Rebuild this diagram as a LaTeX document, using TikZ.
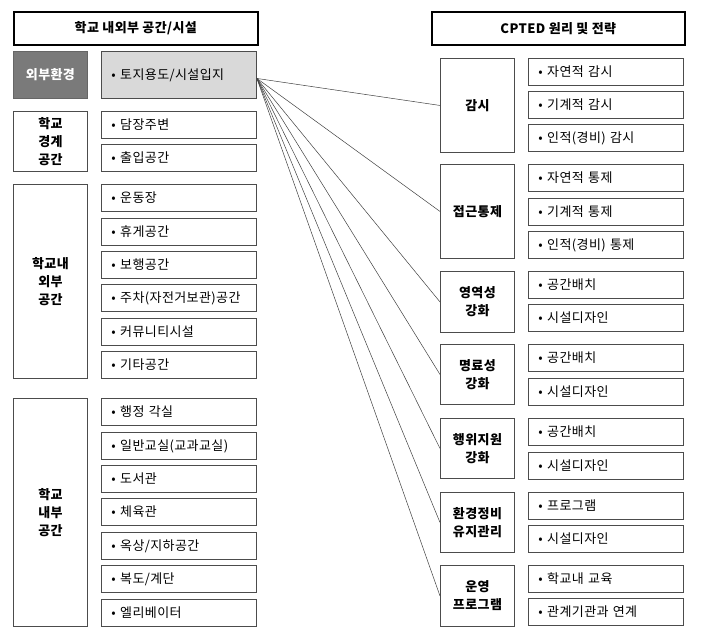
\documentclass[tikz,border=0pt]{standalone}
\usepackage{fontspec}
\newfontfamily\kr[LetterSpace=3]{Noto Sans CJK KR}
\begin{document}
\begin{tikzpicture}[x=1pt,y=-1pt,
  title/.style={draw=black, line width=1.6pt, anchor=north west, inner sep=0pt,
    minimum height=33pt, align=center, font=\kr\bfseries\fontsize{13}{15}\selectfont},
  cat/.style={draw=black!70, line width=0.9pt, anchor=north west, inner sep=0pt,
    minimum width=74pt, text width=72pt, align=center,
    font=\kr\bfseries\fontsize{13}{18}\selectfont},
  item/.style={draw=black!70, line width=0.9pt, anchor=north west, inner ysep=0pt,
    inner xsep=10pt, text width=135pt, minimum height=27pt, align=left,
    font=\kr\fontsize{13}{15}\selectfont},
  link/.style={draw=black!75, line width=0.5pt}]
\useasboundingbox (0,0) rectangle (704,636);
% titles
\node[title, minimum width=244pt] (tl) at (13,11) {학교 내외부 공간/시설};
\node[title, minimum width=253pt] (tr) at (431,11) {CPTED 원리 및 전략};
% left side
\node[cat, minimum height=47pt, fill=black!52, text=white, draw=black!60] (c1) at (13,51) {외부환경};
\node[item, minimum height=47pt, fill=black!15] (topo) at (101,51) {• 토지용도/시설입지};
\node[cat, minimum height=60pt] (c2) at (13,111) {학교\\경계\\공간};
\node[item] (l21) at (101,111) {• 담장주변};
\node[item] (l22) at (101,144) {• 출입공간};
\node[cat, minimum height=194pt] (c3) at (13,184) {학교내\\외부\\공간};
\node[item] (l31) at (101,184) {• 운동장};
\node[item] (l32) at (101,218) {• 휴게공간};
\node[item] (l33) at (101,251) {• 보행공간};
\node[item] (l34) at (101,284) {• 주차(자전거보관)공간};
\node[item] (l35) at (101,318) {• 커뮤니티시설};
\node[item] (l36) at (101,351) {• 기타공간};
\node[cat, minimum height=228pt] (c4) at (13,398) {학교\\내부\\공간};
\node[item] (l41) at (101,398) {• 행정 각실};
\node[item] (l42) at (101,432) {• 일반교실(교과교실)};
\node[item] (l43) at (101,465) {• 도서관};
\node[item] (l44) at (101,498) {• 체육관};
\node[item] (l45) at (101,532) {• 옥상/지하공간};
\node[item] (l46) at (101,565) {• 복도/계단};
\node[item] (l47) at (101,599) {• 엘리베이터};
% right side
\node[cat, minimum height=94pt] (r1) at (440,58) {감시};
\node[item] (r11) at (528,58) {• 자연적 감시};
\node[item] (r12) at (528,91) {• 기계적 감시};
\node[item] (r13) at (528,124) {• 인적(경비) 감시};
\node[cat, minimum height=94pt] (r2) at (440,164) {접근통제};
\node[item] (r21) at (528,164) {• 자연적 통제};
\node[item] (r22) at (528,198) {• 기계적 통제};
\node[item] (r23) at (528,231) {• 인적(경비) 통제};
\node[cat, minimum height=61pt] (r3) at (440,271) {영역성\\강화};
\node[item] (r31) at (528,271) {• 공간배치};
\node[item] (r32) at (528,304) {• 시설디자인};
\node[cat, minimum height=60pt] (r4) at (440,344) {명료성\\강화};
\node[item] (r41) at (528,344) {• 공간배치};
\node[item] (r42) at (528,378) {• 시설디자인};
\node[cat, minimum height=60pt] (r5) at (440,418) {행위지원\\강화};
\node[item] (r51) at (528,418) {• 공간배치};
\node[item] (r52) at (528,452) {• 시설디자인};
\node[cat, minimum height=60pt] (r6) at (440,492) {환경정비\\유지관리};
\node[item] (r61) at (528,492) {• 프로그램};
\node[item] (r62) at (528,525) {• 시설디자인};
\node[cat, minimum height=61pt] (r7) at (440,565) {운영\\프로그램};
\node[item] (r71) at (528,565) {• 학교내 교육};
\node[item] (r72) at (528,598) {• 관계기관과 연계};
% connectors
\coordinate (src) at ([yshift=-3.5pt]topo.east);
\foreach \t in {r1,r2,r3,r4,r5,r6,r7}
  \draw[link] (src) -- (\t.west);
\end{tikzpicture}
\end{document}
